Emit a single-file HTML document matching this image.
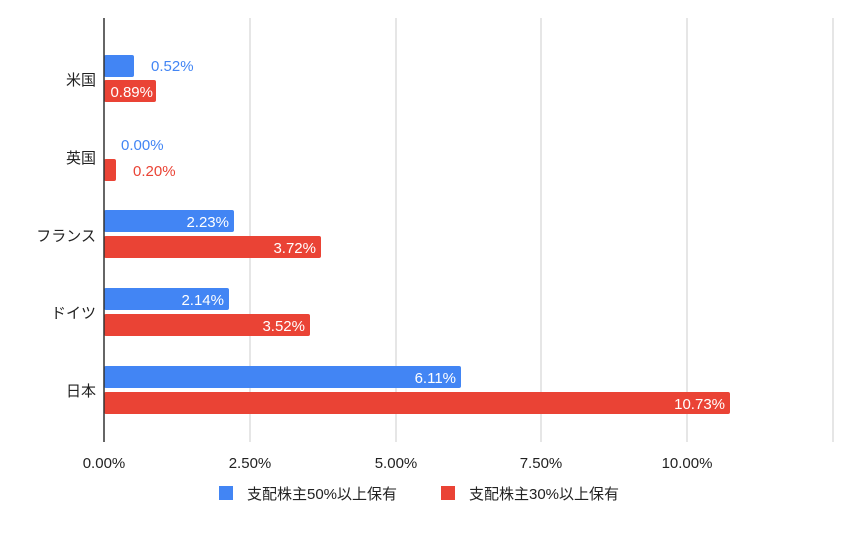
<!DOCTYPE html>
<html><head><meta charset="utf-8"><style>
body{margin:0;background:#fff;}
svg text{font-family:"Liberation Sans","Noto Sans CJK JP",sans-serif;}
</style></head><body>
<svg width="860" height="531" xmlns="http://www.w3.org/2000/svg">
<rect width="860" height="531" fill="#fff"/>
<g stroke="#ccc" stroke-width="1">
<line x1="250" y1="18" x2="250" y2="442"/>
<line x1="396" y1="18" x2="396" y2="442"/>
<line x1="541" y1="18" x2="541" y2="442"/>
<line x1="687" y1="18" x2="687" y2="442"/>
<line x1="833" y1="18" x2="833" y2="442"/>
</g>
<g font-size="15">
<rect x="104" y="55" width="30" height="22" rx="2" fill="#4285f4"/>
<text x="151" y="71" fill="#4285f4">0.52%</text>
<rect x="104" y="80" width="52" height="22" rx="2" fill="#ea4335"/>
<text x="153" y="97" fill="#fff" text-anchor="end">0.89%</text>
<text x="121" y="150" fill="#4285f4">0.00%</text>
<rect x="104" y="159" width="12" height="22" rx="2" fill="#ea4335"/>
<text x="133" y="176" fill="#ea4335">0.20%</text>
<rect x="104" y="210" width="130" height="22" rx="2" fill="#4285f4"/>
<text x="229" y="227" fill="#fff" text-anchor="end">2.23%</text>
<rect x="104" y="236" width="217" height="22" rx="2" fill="#ea4335"/>
<text x="316" y="253" fill="#fff" text-anchor="end">3.72%</text>
<rect x="104" y="288" width="125" height="22" rx="2" fill="#4285f4"/>
<text x="224" y="305" fill="#fff" text-anchor="end">2.14%</text>
<rect x="104" y="314" width="206" height="22" rx="2" fill="#ea4335"/>
<text x="305" y="331" fill="#fff" text-anchor="end">3.52%</text>
<rect x="104" y="366" width="357" height="22" rx="2" fill="#4285f4"/>
<text x="456" y="383" fill="#fff" text-anchor="end">6.11%</text>
<rect x="104" y="392" width="626" height="22" rx="2" fill="#ea4335"/>
<text x="725" y="409" fill="#fff" text-anchor="end">10.73%</text>
</g>
<line x1="104" y1="18" x2="104" y2="442" stroke="#333" stroke-width="1.5"/>
<g font-size="15" fill="#222" text-anchor="end">
<text x="96" y="85">米国</text>
<text x="96" y="163">英国</text>
<text x="96" y="241">フランス</text>
<text x="96" y="318">ドイツ</text>
<text x="96" y="396">日本</text>
</g>
<g font-size="15" fill="#222" text-anchor="middle">
<text x="104" y="468">0.00%</text>
<text x="250" y="468">2.50%</text>
<text x="396" y="468">5.00%</text>
<text x="541" y="468">7.50%</text>
<text x="687" y="468">10.00%</text>
</g>
<rect x="219" y="486" width="14" height="14" fill="#4285f4"/>
<text x="247" y="499" font-size="15" fill="#222">支配株主50%以上保有</text>
<rect x="441" y="486" width="14" height="14" fill="#ea4335"/>
<text x="469" y="499" font-size="15" fill="#222">支配株主30%以上保有</text>
</svg>
</body></html>
